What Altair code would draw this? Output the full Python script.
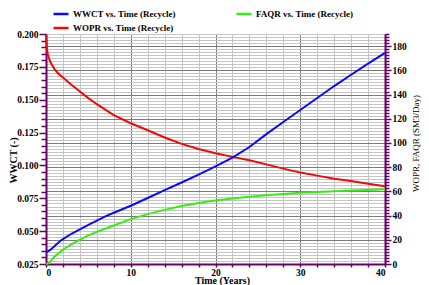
import altair as alt
import pandas as pd

# ---- data ----
time_years = [0, 0.1, 0.25, 0.5, 1, 1.5, 2, 3, 4, 5, 6, 7, 8, 10, 12, 14, 16, 18,
              20, 22, 24, 26, 28, 30, 32, 34, 36, 38, 40]
wwct = [0.0340, 0.0342, 0.0347, 0.0357, 0.0385, 0.0415, 0.0440, 0.0480, 0.0514,
        0.0548, 0.0580, 0.0612, 0.0640, 0.0693, 0.0752, 0.0812, 0.0870, 0.0930,
        0.0993, 0.1060, 0.1140, 0.1238, 0.1330, 0.1422, 0.1513, 0.1604, 0.1690,
        0.1774, 0.1857]
wopr = [189, 178, 172, 167, 161, 157, 154, 148, 142.5, 137, 132, 127.5, 123,
        116.3, 110.5, 104.5, 99.2, 95, 91.5, 88.5, 85.7, 82.3, 78.8, 75.5, 73,
        70.5, 68.5, 66.3, 64.2]
faqr = [0, 0.2, 0.5, 2, 6, 9, 11.8, 16.3, 20.2, 23.6, 26.5, 29.1, 31.8, 37.1,
        41.2, 44.7, 47.9, 50.4, 52.4, 54.1, 55.6, 56.8, 57.9, 58.8, 59.5, 60.1,
        60.7, 61.2, 61.7]

series_names = ["WWCT vs. Time (Recycle)", "WOPR vs. Time (Recycle)", "FAQR vs. Time (Recycle)"]
series_colors = ["#0a0af5", "#ee0a0a", "#33ee11"]

x_ticks = list(range(0, 41, 2))
left_ticks = [round(0.025 + 0.005 * i, 3) for i in range(36)]
right_ticks = [2.5 * i for i in range(77)]

left_df = pd.DataFrame({"t": time_years, "v": wwct, "series": series_names[0]})
right_df = pd.concat([
    pd.DataFrame({"t": time_years, "v": wopr, "series": series_names[1]}),
    pd.DataFrame({"t": time_years, "v": faqr, "series": series_names[2]}),
])

FONT = "Liberation Serif, Times New Roman, serif"
PURPLE = "#660066"

x_axis = alt.Axis(
    values=x_ticks,
    labelExpr="datum.value % 10 == 0 ? datum.label : ''",
    title="Time (Years)",
    titleFont=FONT, titleFontSize=10, titleFontWeight="bold", titleColor="black",
    titleBaseline="alphabetic", titleY=19, titleX=176,
    labelFont=FONT, labelFontSize=9.5, labelFontWeight="bold", labelColor="black",
    labelPadding=0,
    domainColor=PURPLE, domainWidth=2, tickColor=PURPLE, tickWidth=1.5,
    tickSize=3,
    grid=True,
    gridColor={"condition": {"test": "datum.value % 10 == 0", "value": "#7a7a7a"}, "value": "#c4c4c4"},
    gridWidth=1,
)

x_enc = alt.X("t:Q", scale=alt.Scale(domain=[0, 40], nice=False), axis=x_axis)

color_enc = alt.Color(
    "series:N",
    scale=alt.Scale(domain=series_names, range=series_colors),
    legend=alt.Legend(
        title=None, orient="none", legendX=6, legendY=-29, columns=2,
        columnPadding=55, rowPadding=-4,
        symbolType="stroke", symbolSize=225, symbolStrokeWidth=2.5,
        labelFont=FONT, labelFontSize=9, labelFontWeight="bold", labelColor="black",
        labelOffset=3, labelLimit=300,
    ),
)

left = alt.Chart(left_df).mark_line(strokeWidth=2).encode(
    x=x_enc,
    y=alt.Y("v:Q", scale=alt.Scale(domain=[0.025, 0.2], nice=False, zero=False),
            axis=alt.Axis(
                orient="left", values=left_ticks,
                labelExpr="abs(datum.value*40 - round(datum.value*40)) < 0.01 ? format(datum.value, '.3f') : ''",
                title="WWCT (-)", titleFont=FONT, titleFontSize=10, titleFontWeight="bold",
                titleColor="black", titleX=-33, titleY=126, titleBaseline="middle",
                labelFont=FONT, labelFontSize=9.5, labelFontWeight="bold", labelColor="black",
                labelPadding=1,
                domainColor=PURPLE, domainWidth=2, tickColor=PURPLE, tickWidth=1.5,
                tickSize={"condition": {"test": "abs(datum.value*40 - round(datum.value*40)) < 0.01", "value": 7}, "value": 5},
                grid=False,
            )),
    color=color_enc,
    order="t:Q",
)

right = alt.Chart(right_df).mark_line(strokeWidth=2).encode(
    x=x_enc,
    y=alt.Y("v:Q", scale=alt.Scale(domain=[0, 190], nice=False),
            axis=alt.Axis(
                orient="right", values=right_ticks,
                labelExpr="datum.value % 20 == 0 && datum.value <= 180 ? datum.label : ''",
                title="WOPR, FAQR (SM3/Day)", titleFont=FONT, titleFontSize=9,
                titleFontWeight="normal", titleColor="black", titleAngle=270,
                titleX=30, titleY=109, titleBaseline="middle",
                labelFont=FONT, labelFontSize=9.5, labelFontWeight="bold", labelColor="black",
                labelPadding=1,
                domainColor=PURPLE, domainWidth=2, tickColor=PURPLE, tickWidth=1.5,
                tickSize={"condition": {"test": "datum.value % 20 == 0", "value": 6}, "value": 4},
                grid=True,
                gridColor={"condition": {"test": "datum.value % 20 == 0", "value": "#7a7a7a"}, "value": "#c4c4c4"},
                gridWidth=1,
            )),
    color=color_enc,
    order="t:Q",
)

chart = alt.layer(right, left).resolve_scale(y="independent").properties(
    width=339, height=230,
    autosize=alt.AutoSizeParams(type="none"),
    padding={"left": 38, "top": 26, "right": 36, "bottom": 21},
    background="white",
).configure_view(stroke="#7a7a7a", strokeWidth=1)

chart.save("out.html", embed_options={"renderer": "svg", "actions": False})
